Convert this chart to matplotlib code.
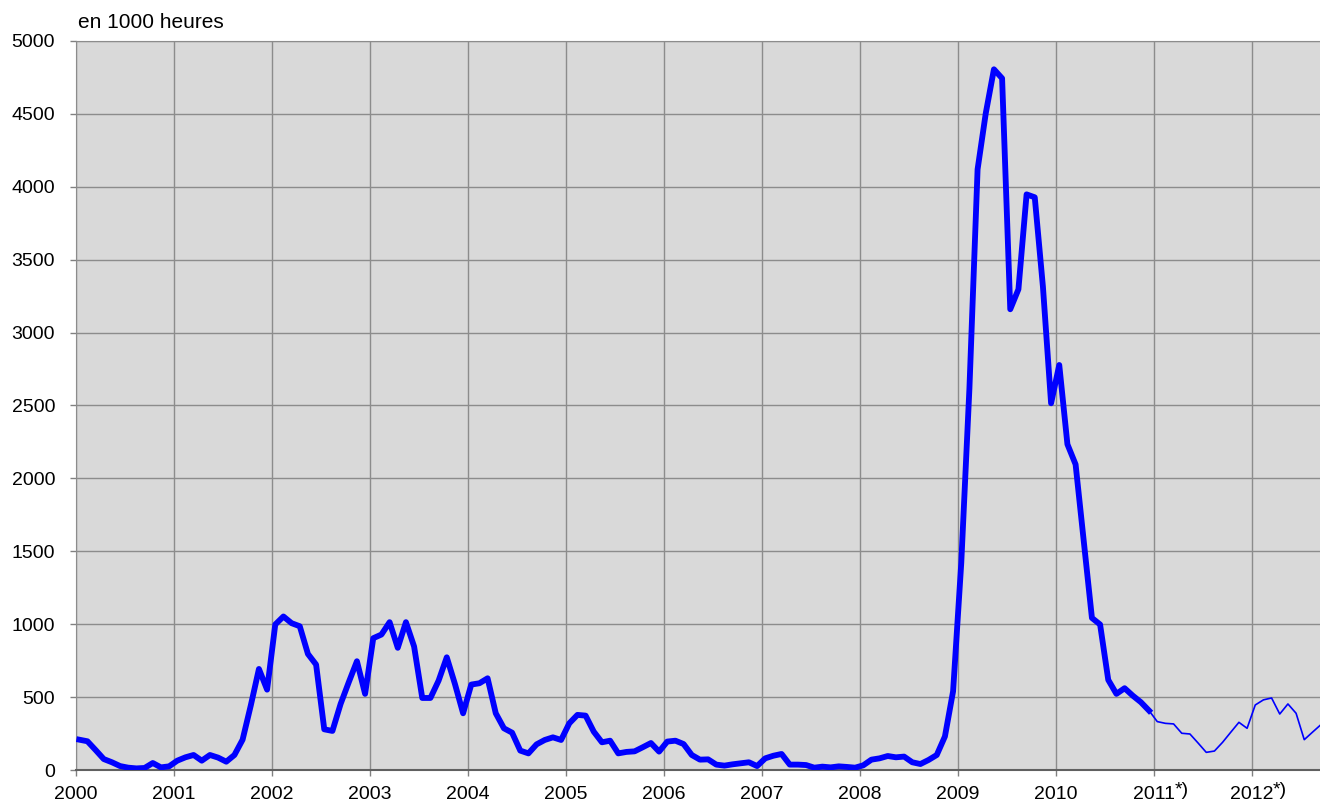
import matplotlib.pyplot as plt
import numpy as np

plt.rcParams['font.family'] = ['Liberation Sans', 'DejaVu Sans']

# monthly values, en 1000 heures (Jan 2000 .. Dec 2010, thick line)
y2000 = [208, 197, 137, 75, 53, 27, 16, 11, 14, 48, 18, 25]
y2001 = [64, 87, 103, 64, 103, 85, 57, 103, 208, 442, 693, 551]
y2002 = [998, 1053, 1007, 986, 796, 723, 279, 268, 453, 602, 746, 522]
y2003 = [904, 929, 1014, 838, 1014, 847, 494, 494, 613, 773, 590, 389]
y2004 = [586, 595, 629, 389, 286, 256, 133, 114, 176, 206, 224, 206]
y2005 = [320, 378, 373, 263, 190, 201, 114, 124, 128, 156, 185, 126]
y2006 = [195, 201, 178, 103, 71, 73, 37, 30, 39, 46, 53, 27]
y2007 = [80, 98, 110, 37, 37, 34, 16, 23, 18, 25, 21, 16]
y2008 = [32, 71, 80, 96, 87, 92, 53, 41, 69, 103, 230, 540]
y2009 = [1420, 2618, 4120, 4504, 4806, 4744, 3160, 3297, 3948, 3928, 3315, 2515]
y2010 = [2778, 2234, 2096, 1570, 1043, 998, 618, 522, 561, 510, 465, 407]
# thin line (provisional figures)
y2011 = [332, 320, 316, 252, 247, 185, 121, 130, 190, 259, 327, 286]
y2012 = [446, 481, 494, 384, 453, 389, 208, 259, 309]

years = list(range(2000, 2013))
year_labels = [str(y) for y in years]
prov_years = [2011, 2012]   # marked with *)

final = y2000 + y2001 + y2002 + y2003 + y2004 + y2005 + y2006 + y2007 + y2008 + y2009 + y2010
prov = y2011 + y2012

x_final = 2000 + (np.arange(len(final)) + 0.4) / 12
x_prov = 2000 + (np.arange(len(final) - 1, len(final) + len(prov)) + 0.4) / 12
y_prov = [final[-1]] + prov

fig = plt.figure(figsize=(13.2, 8.05), dpi=100)
ax = fig.add_axes([76 / 1320, 35 / 805, 1244 / 1320, 729 / 805])
ax.set_facecolor('#d9d9d9')

ax.plot(x_final, final, color='#0000ff', linewidth=4.2, zorder=3)
ax.plot(x_prov, y_prov, color='#0000ff', linewidth=1.2, zorder=3)

ax.set_xlim(2000, 2012.694)
ax.set_ylim(0, 5000)
ax.set_xticks(years)
ax.set_xticklabels(year_labels)
ax.set_yticks(range(0, 5001, 500))

ax.grid(True, color='#8c8c8c', linewidth=1.0)
ax.set_axisbelow(True)
ax.tick_params(axis='both', colors='#808080', labelcolor='black', labelsize=14, length=4, width=1)
ax.tick_params(axis='y', pad=11)
ax.tick_params(axis='x', pad=17)
for lab in ax.get_xticklabels():
    lab.set_verticalalignment('baseline')

# footnote marker after the provisional years
for yr in prov_years:
    ax.annotate('*)', xy=(yr, 0), xycoords=('data', 'axes fraction'),
                xytext=(15, -14.5), textcoords='offset points',
                fontsize=14, ha='left', va='center', annotation_clip=False)

for s in ['left', 'top']:
    ax.spines[s].set_color('#8c8c8c')
ax.spines['bottom'].set_color('#606060')
ax.spines['bottom'].set_linewidth(1.5)
ax.spines['right'].set_visible(False)

fig.text(78 / 1320, 1 - 23 / 805, 'en 1000 heures', fontsize=15, va='center', ha='left')

fig.savefig('out.png', dpi=100)
